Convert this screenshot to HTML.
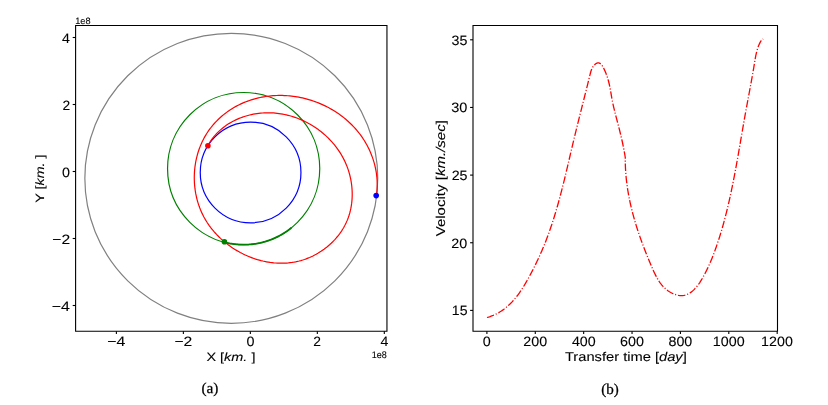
<!DOCTYPE html>
<html><head><meta charset="utf-8"><style>
html,body{margin:0;padding:0;background:#fff;}
body{width:828px;height:405px;overflow:hidden;position:relative;}
svg{position:absolute;left:0;top:0;will-change:transform;}
text{fill:#000;text-rendering:geometricPrecision;}
.s{stroke:#000;stroke-width:0.1px;}
.c{stroke:#000;stroke-width:0.25px;}
</style></head><body>
<svg width="828" height="405" viewBox="0 0 828 405">
<ellipse cx="231.3" cy="178.3" rx="146.45" ry="145" fill="none" stroke="#808080" stroke-width="1.2"/>
<circle cx="243.65" cy="168.6" r="76.1" fill="none" stroke="#008000" stroke-width="1.2"/>
<circle cx="250.6" cy="172.45" r="50.35" fill="none" stroke="#0000ff" stroke-width="1.2"/>
<path d="M224.47 242.24 L225.64 242.54 L226.81 242.81 L227.98 243.07 L229.16 243.31 L230.35 243.53 L231.54 243.73 L232.73 243.91 L233.92 244.08 L235.12 244.22 L236.31 244.35 L237.51 244.45 L238.71 244.54 L239.92 244.61 L241.12 244.66 L242.32 244.69 L243.53 244.7 L244.73 244.69 L245.94 244.67 L247.14 244.62 L248.34 244.56 L249.54 244.47 L250.74 244.37 L251.94 244.25 L253.14 244.11 L254.33 243.95 L255.52 243.77 L256.71 243.57 L257.9 243.35 L259.08 243.12 L260.26 242.87 L261.43 242.59 L262.6 242.3 L263.76 241.99 L264.92 241.67 L266.07 241.32 L267.22 240.96 L268.36 240.58 L269.5 240.18 L270.63 239.76 L271.75 239.32 L272.87 238.87 L273.98 238.4 L275.08 237.91 L276.17 237.4 L277.25 236.88 L278.33 236.34 L279.4 235.78 L280.46 235.21 L281.51 234.62 L282.55 234.01 L283.58 233.38 L284.6 232.74 L285.61 232.09 L286.61 231.42 L287.6 230.73 L288.57 230.03 L289.54 229.31 L290.49 228.57 L291.44 227.82" fill="none" stroke="#008000" stroke-width="1.8"/>
<path d="M207.74 145.73 L208.68 144.08 L209.67 142.47 L210.71 140.9 L211.79 139.37 L212.91 137.88 L214.08 136.44 L215.29 135.04 L216.53 133.68 L217.82 132.36 L219.14 131.09 L220.5 129.86 L221.9 128.67 L223.32 127.52 L224.78 126.42 L226.27 125.36 L227.79 124.34 L229.34 123.36 L230.92 122.43 L232.52 121.54 L234.15 120.69 L235.8 119.89 L237.47 119.12 L239.16 118.4 L240.87 117.73 L242.6 117.1 L244.35 116.51 L246.11 115.96 L247.88 115.46 L249.67 115 L251.47 114.58 L253.28 114.21 L255.1 113.88 L256.93 113.59 L258.76 113.35 L260.6 113.15 L262.45 112.99 L264.29 112.88 L266.14 112.81 L267.99 112.78 L269.84 112.8 L271.68 112.86 L273.52 112.97 L275.36 113.12 L277.19 113.31 L279.02 113.54 L280.84 113.81 L282.66 114.13 L284.47 114.48 L286.27 114.87 L288.06 115.31 L289.84 115.78 L291.61 116.29 L293.37 116.84 L295.12 117.43 L296.86 118.05 L298.58 118.72 L300.29 119.41 L301.98 120.15 L303.66 120.92 L305.33 121.72 L306.97 122.56 L308.6 123.43 L310.21 124.34 L311.81 125.28 L313.38 126.25 L314.93 127.25 L316.46 128.29 L317.97 129.36 L319.45 130.46 L320.91 131.58 L322.35 132.74 L323.77 133.93 L325.15 135.15 L326.52 136.4 L327.85 137.67 L329.16 138.97 L330.43 140.3 L331.68 141.66 L332.9 143.04 L334.09 144.45 L335.25 145.88 L336.37 147.34 L337.46 148.83 L338.52 150.34 L339.55 151.87 L340.53 153.42 L341.49 155 L342.4 156.6 L343.28 158.22 L344.12 159.87 L344.93 161.53 L345.69 163.22 L346.41 164.92 L347.1 166.64 L347.74 168.39 L348.34 170.15 L348.89 171.92 L349.41 173.71 L349.88 175.51 L350.31 177.33 L350.7 179.15 L351.04 180.98 L351.34 182.82 L351.6 184.67 L351.81 186.52 L351.98 188.38 L352.1 190.24 L352.18 192.1 L352.21 193.95 L352.2 195.81 L352.13 197.66 L352.03 199.51 L351.87 201.36 L351.67 203.19 L351.42 205.02 L351.12 206.84 L350.78 208.65 L350.39 210.44 L349.94 212.23 L349.45 213.99 L348.91 215.74 L348.32 217.48 L347.68 219.19 L346.99 220.89 L346.25 222.56 L345.46 224.21 L344.62 225.84 L343.73 227.44 L342.79 229.02 L341.82 230.57 L340.79 232.1 L339.73 233.6 L338.62 235.07 L337.48 236.51 L336.29 237.93 L335.07 239.31 L333.81 240.66 L332.51 241.98 L331.18 243.27 L329.82 244.53 L328.42 245.75 L327 246.94 L325.54 248.09 L324.06 249.2 L322.54 250.28 L321.01 251.32 L319.44 252.32 L317.86 253.28 L316.25 254.2 L314.62 255.08 L312.97 255.92 L311.3 256.71 L309.61 257.47 L307.91 258.17 L306.19 258.84 L304.46 259.46 L302.71 260.03 L300.95 260.55 L299.18 261.03 L297.41 261.45 L295.62 261.83 L293.82 262.17 L292.02 262.45 L290.21 262.69 L288.4 262.89 L286.58 263.03 L284.75 263.14 L282.93 263.2 L281.1 263.21 L279.27 263.18 L277.44 263.11 L275.61 263 L273.77 262.84 L271.95 262.64 L270.12 262.4 L268.3 262.12 L266.48 261.8 L264.66 261.44 L262.85 261.04 L261.05 260.6 L259.26 260.12 L257.47 259.61 L255.69 259.06 L253.93 258.47 L252.17 257.84 L250.42 257.18 L248.69 256.48 L246.97 255.75 L245.26 254.98 L243.57 254.17 L241.89 253.34 L240.23 252.47 L238.59 251.56 L236.96 250.63 L235.36 249.66 L233.77 248.66 L232.2 247.63 L230.65 246.57 L229.13 245.48 L227.63 244.36 L226.15 243.21 L224.7 242.03 L223.27 240.82 L221.87 239.59 L220.49 238.33 L219.14 237.04 L217.82 235.72 L216.53 234.38 L215.27 233.01 L214.04 231.62 L212.84 230.2 L211.68 228.76 L210.54 227.3 L209.44 225.81 L208.38 224.3 L207.35 222.77 L206.36 221.21 L205.41 219.64 L204.49 218.04 L203.61 216.42 L202.78 214.78 L201.98 213.13 L201.22 211.45 L200.5 209.76 L199.82 208.05 L199.18 206.33 L198.58 204.59 L198.02 202.84 L197.5 201.07 L197.01 199.3 L196.57 197.51 L196.17 195.72 L195.8 193.91 L195.48 192.1 L195.19 190.28 L194.94 188.45 L194.74 186.62 L194.57 184.78 L194.44 182.94 L194.35 181.1 L194.29 179.26 L194.28 177.41 L194.31 175.57 L194.37 173.72 L194.48 171.88 L194.62 170.05 L194.8 168.21 L195.03 166.38 L195.29 164.56 L195.58 162.74 L195.92 160.93 L196.3 159.13 L196.71 157.34 L197.17 155.56 L197.66 153.79 L198.19 152.03 L198.76 150.29 L199.37 148.56 L200.02 146.84 L200.7 145.14 L201.43 143.46 L202.19 141.79 L202.99 140.15 L203.83 138.52 L204.71 136.91 L205.62 135.33 L206.58 133.76 L207.57 132.22 L208.6 130.71 L209.67 129.22 L210.78 127.75 L211.92 126.31 L213.1 124.9 L214.31 123.51 L215.56 122.16 L216.84 120.83 L218.15 119.53 L219.49 118.25 L220.86 117.01 L222.26 115.8 L223.68 114.63 L225.13 113.48 L226.61 112.36 L228.12 111.28 L229.64 110.24 L231.19 109.22 L232.76 108.24 L234.35 107.3 L235.97 106.39 L237.6 105.52 L239.25 104.69 L240.91 103.89 L242.6 103.13 L244.29 102.41 L246.01 101.72 L247.74 101.07 L249.48 100.45 L251.23 99.87 L253 99.33 L254.78 98.82 L256.57 98.35 L258.36 97.91 L260.17 97.51 L261.99 97.15 L263.81 96.82 L265.64 96.53 L267.47 96.27 L269.31 96.05 L271.16 95.86 L273.01 95.71 L274.86 95.59 L276.71 95.51 L278.57 95.46 L280.42 95.45 L282.28 95.47 L284.13 95.53 L285.98 95.62 L287.83 95.74 L289.68 95.9 L291.53 96.1 L293.37 96.32 L295.2 96.58 L297.03 96.88 L298.86 97.2 L300.68 97.56 L302.49 97.95 L304.29 98.38 L306.09 98.83 L307.87 99.32 L309.65 99.84 L311.42 100.39 L313.18 100.97 L314.92 101.58 L316.66 102.23 L318.38 102.9 L320.09 103.6 L321.79 104.34 L323.47 105.1 L325.13 105.89 L326.79 106.72 L328.42 107.57 L330.04 108.45 L331.64 109.36 L333.23 110.3 L334.8 111.26 L336.34 112.26 L337.87 113.28 L339.38 114.33 L340.87 115.41 L342.34 116.51 L343.78 117.64 L345.2 118.8 L346.6 119.99 L347.98 121.2 L349.33 122.44 L350.66 123.7 L351.96 124.99 L353.24 126.3 L354.49 127.64 L355.71 129.01 L356.9 130.39 L358.07 131.81 L359.21 133.25 L360.31 134.71 L361.39 136.19 L362.44 137.7 L363.46 139.24 L364.44 140.79 L365.39 142.37 L366.31 143.97 L367.2 145.58 L368.05 147.22 L368.87 148.87 L369.65 150.55 L370.4 152.23 L371.11 153.94 L371.78 155.66 L372.42 157.39 L373.02 159.14 L373.58 160.9 L374.11 162.68 L374.59 164.46 L375.04 166.25 L375.44 168.06 L375.81 169.87 L376.13 171.69 L376.41 173.52 L376.65 175.35 L376.85 177.19 L377 179.04 L377.11 180.89 L377.17 182.74 L377.2 184.59 L377.17 186.45 L377.1 188.31 L376.98 190.17 L376.82 192.02 L376.6 193.88 L376.34 195.73" fill="none" stroke="#ff0000" stroke-width="1.2"/>
<circle cx="207.9" cy="145.7" r="2.8" fill="#ff0000"/>
<circle cx="224.4" cy="241.8" r="2.8" fill="#008000"/>
<circle cx="376.2" cy="195.6" r="2.8" fill="#0000ff"/>
<path d="M75.6 25.5 H386.95 V331.3 H75.6 Z" fill="none" stroke="#000" stroke-width="1.1" stroke-linejoin="miter"/>
<line x1="116.39" y1="331.3" x2="116.39" y2="334.0" stroke="#000" stroke-width="1.1"/>
<line x1="183.37" y1="331.3" x2="183.37" y2="334.0" stroke="#000" stroke-width="1.1"/>
<line x1="250.35" y1="331.3" x2="250.35" y2="334.0" stroke="#000" stroke-width="1.1"/>
<line x1="317.33" y1="331.3" x2="317.33" y2="334.0" stroke="#000" stroke-width="1.1"/>
<line x1="384.31" y1="331.3" x2="384.31" y2="334.0" stroke="#000" stroke-width="1.1"/>
<line x1="75.6" y1="305.5" x2="72.7" y2="305.5" stroke="#000" stroke-width="1.1"/>
<line x1="75.6" y1="238.5" x2="72.7" y2="238.5" stroke="#000" stroke-width="1.1"/>
<line x1="75.6" y1="171.5" x2="72.7" y2="171.5" stroke="#000" stroke-width="1.1"/>
<line x1="75.6" y1="104.5" x2="72.7" y2="104.5" stroke="#000" stroke-width="1.1"/>
<line x1="75.6" y1="37.5" x2="72.7" y2="37.5" stroke="#000" stroke-width="1.1"/>
<path d="M486.99 317.5 L488.58 317.03 L490.13 316.52 L491.65 315.97 L493.14 315.37 L494.59 314.73 L496.01 314.05 L497.4 313.34 L498.76 312.58 L500.09 311.79 L501.39 310.96 L502.66 310.1 L503.9 309.21 L505.11 308.28 L506.3 307.32 L507.46 306.33 L508.6 305.31 L509.71 304.27 L510.79 303.19 L511.86 302.1 L512.9 300.97 L513.92 299.83 L514.92 298.66 L515.9 297.47 L516.86 296.26 L517.8 295.03 L518.72 293.78 L519.63 292.51 L520.52 291.23 L521.39 289.94 L522.25 288.63 L523.09 287.31 L523.92 285.97 L524.73 284.63 L525.53 283.27 L526.33 281.91 L527.11 280.54 L527.88 279.17 L528.64 277.79 L529.39 276.41 L530.13 275.02 L530.87 273.63 L531.6 272.24 L532.32 270.85 L533.03 269.46 L533.74 268.07 L534.44 266.67 L535.14 265.28 L535.82 263.88 L536.5 262.48 L537.17 261.08 L537.84 259.67 L538.49 258.27 L539.14 256.86 L539.78 255.44 L540.42 254.03 L541.05 252.61 L541.67 251.19 L542.28 249.77 L542.88 248.35 L543.48 246.92 L544.07 245.48 L544.65 244.05 L545.23 242.61 L545.79 241.17 L546.35 239.72 L546.91 238.27 L547.45 236.82 L547.99 235.37 L548.52 233.91 L549.05 232.45 L549.57 230.99 L550.08 229.52 L550.59 228.05 L551.09 226.58 L551.59 225.11 L552.07 223.63 L552.56 222.16 L553.04 220.68 L553.51 219.19 L553.98 217.71 L554.44 216.22 L554.89 214.73 L555.34 213.24 L555.79 211.75 L556.23 210.25 L556.67 208.75 L557.1 207.25 L557.53 205.75 L557.96 204.25 L558.38 202.75 L558.79 201.24 L559.21 199.74 L559.61 198.23 L560.02 196.72 L560.42 195.21 L560.82 193.7 L561.21 192.19 L561.61 190.67 L562 189.16 L562.38 187.64 L562.76 186.13 L563.15 184.61 L563.52 183.09 L563.9 181.57 L564.27 180.05 L564.64 178.53 L565.01 177.01 L565.38 175.49 L565.75 173.97 L566.11 172.45 L566.47 170.93 L566.84 169.41 L567.2 167.89 L567.56 166.37 L567.91 164.85 L568.27 163.33 L568.63 161.81 L568.98 160.29 L569.34 158.77 L569.69 157.25 L570.05 155.73 L570.4 154.21 L570.76 152.69 L571.11 151.17 L571.47 149.66 L571.82 148.14 L572.18 146.63 L572.54 145.11 L572.89 143.6 L573.25 142.09 L573.61 140.58 L573.97 139.07 L574.33 137.56 L574.7 136.05 L575.06 134.55 L575.43 133.04 L575.79 131.54 L576.16 130.04 L576.53 128.54 L576.9 127.04 L577.27 125.53 L577.64 124.04 L578.02 122.54 L578.39 121.04 L578.77 119.54 L579.14 118.04 L579.52 116.54 L579.9 115.04 L580.28 113.54 L580.66 112.04 L581.04 110.54 L581.42 109.04 L581.8 107.54 L582.18 106.03 L582.56 104.53 L582.94 103.02 L583.32 101.52 L583.7 100.01 L584.09 98.5 L584.47 96.99 L584.85 95.48 L585.23 93.96 L585.61 92.44 L586 90.93 L586.38 89.4 L586.76 87.88 L587.14 86.36 L587.52 84.83 L587.9 83.3 L588.28 81.76 L588.66 80.23 L589.04 78.69 L589.42 77.14 L589.8 75.6 L590.18 74.05 L590.57 72.5 L591.02 70.97 L591.55 69.48 L592.21 68.02 L593.02 66.63 L594.02 65.32 L595.17 64.17 L596.39 63.3 L597.63 62.82 L598.81 62.83 L599.92 63.31 L600.97 64.17 L601.94 65.33 L602.85 66.73 L603.7 68.27 L604.48 69.89 L605.2 71.51 L605.86 73.11 L606.46 74.68 L607.01 76.23 L607.52 77.76 L607.98 79.28 L608.4 80.78 L608.79 82.27 L609.15 83.74 L609.47 85.21 L609.78 86.67 L610.06 88.12 L610.33 89.57 L610.59 91.02 L610.84 92.47 L611.09 93.92 L611.34 95.37 L611.59 96.83 L611.85 98.3 L612.13 99.77 L612.42 101.26 L612.73 102.76 L613.05 104.27 L613.38 105.79 L613.73 107.32 L614.1 108.85 L614.47 110.39 L614.85 111.93 L615.23 113.48 L615.63 115.03 L616.03 116.58 L616.43 118.13 L616.84 119.69 L617.24 121.24 L617.65 122.79 L618.05 124.33 L618.45 125.87 L618.85 127.41 L619.24 128.93 L619.63 130.46 L620.01 131.97 L620.38 133.48 L620.74 134.99 L621.1 136.49 L621.45 137.99 L621.8 139.49 L622.14 140.99 L622.46 142.49 L622.79 144 L623.1 145.51 L623.4 147.02 L623.7 148.53 L623.99 150.06 L624.27 151.59 L624.54 153.13 L624.81 154.67 L625.06 156.23 L625.3 157.8 L625.27 159.26 L625.27 160.73 L625.29 162.19 L625.32 163.65 L625.36 165.11 L625.41 166.56 L625.47 168.02 L625.55 169.47 L625.63 170.92 L625.73 172.37 L625.84 173.81 L625.95 175.26 L626.08 176.7 L626.22 178.14 L626.37 179.58 L626.53 181.01 L626.7 182.45 L626.88 183.88 L627.07 185.31 L627.27 186.74 L627.48 188.16 L627.69 189.59 L627.92 191.01 L628.16 192.43 L628.41 193.85 L628.66 195.27 L628.93 196.69 L629.2 198.1 L629.49 199.51 L629.78 200.93 L630.08 202.33 L630.39 203.74 L630.7 205.15 L631.03 206.55 L631.36 207.96 L631.7 209.36 L632.05 210.76 L632.41 212.16 L632.78 213.55 L633.15 214.95 L633.53 216.34 L633.92 217.74 L634.31 219.13 L634.71 220.52 L635.12 221.91 L635.54 223.3 L635.96 224.68 L636.39 226.07 L636.83 227.45 L637.27 228.83 L637.72 230.22 L638.17 231.6 L638.64 232.97 L639.1 234.35 L639.58 235.73 L640.06 237.1 L640.54 238.48 L641.03 239.85 L641.53 241.22 L642.03 242.6 L642.54 243.97 L643.05 245.34 L643.57 246.7 L644.09 248.07 L644.62 249.44 L645.15 250.8 L645.68 252.17 L646.23 253.53 L646.77 254.89 L647.32 256.26 L647.87 257.62 L648.43 258.98 L648.99 260.34 L649.56 261.7 L650.13 263.05 L650.7 264.41 L651.28 265.77 L651.86 267.12 L652.44 268.48 L653.03 269.83 L653.64 271.17 L654.25 272.5 L654.88 273.82 L655.53 275.13 L656.2 276.42 L656.89 277.69 L657.61 278.95 L658.35 280.17 L659.13 281.38 L659.93 282.55 L660.78 283.7 L661.66 284.81 L662.58 285.89 L663.54 286.94 L664.55 287.94 L665.6 288.9 L666.71 289.82 L667.87 290.69 L669.08 291.52 L670.35 292.29 L671.67 293 L673.02 293.65 L674.4 294.22 L675.8 294.71 L677.21 295.1 L678.61 295.39 L679.99 295.58 L681.36 295.64 L682.69 295.58 L683.98 295.4 L685.25 295.11 L686.48 294.71 L687.69 294.21 L688.86 293.61 L690 292.92 L691.12 292.15 L692.2 291.3 L693.26 290.37 L694.29 289.38 L695.29 288.32 L696.27 287.2 L697.22 286.03 L698.14 284.82 L699.04 283.57 L699.92 282.28 L700.77 280.96 L701.59 279.62 L702.4 278.26 L703.18 276.88 L703.94 275.5 L704.68 274.12 L705.4 272.74 L706.1 271.37 L706.78 270.01 L707.44 268.65 L708.08 267.29 L708.7 265.94 L709.31 264.6 L709.91 263.25 L710.49 261.91 L711.05 260.58 L711.61 259.24 L712.15 257.91 L712.68 256.57 L713.2 255.24 L713.71 253.9 L714.21 252.57 L714.71 251.23 L715.19 249.9 L715.67 248.55 L716.15 247.21 L716.62 245.86 L717.08 244.51 L717.54 243.16 L717.99 241.81 L718.44 240.45 L718.88 239.09 L719.32 237.73 L719.75 236.36 L720.17 234.99 L720.59 233.62 L721.01 232.25 L721.42 230.87 L721.83 229.5 L722.23 228.12 L722.62 226.73 L723.01 225.35 L723.4 223.96 L723.78 222.58 L724.16 221.18 L724.54 219.79 L724.91 218.4 L725.27 217 L725.63 215.6 L725.99 214.2 L726.34 212.8 L726.69 211.4 L727.04 209.99 L727.38 208.58 L727.72 207.18 L728.05 205.76 L728.38 204.35 L728.71 202.94 L729.03 201.52 L729.35 200.11 L729.67 198.69 L729.98 197.27 L730.3 195.85 L730.6 194.43 L730.91 193.01 L731.21 191.58 L731.51 190.16 L731.81 188.73 L732.1 187.31 L732.39 185.88 L732.68 184.45 L732.97 183.02 L733.25 181.59 L733.53 180.16 L733.81 178.73 L734.09 177.29 L734.36 175.86 L734.64 174.43 L734.91 172.99 L735.18 171.56 L735.45 170.12 L735.71 168.68 L735.98 167.25 L736.24 165.81 L736.5 164.37 L736.76 162.94 L737.02 161.5 L737.27 160.06 L737.53 158.62 L737.79 157.19 L738.04 155.75 L738.29 154.31 L738.54 152.87 L738.79 151.43 L739.04 149.99 L739.29 148.56 L739.54 147.12 L739.79 145.68 L740.04 144.25 L740.29 142.81 L740.53 141.37 L740.78 139.94 L741.03 138.5 L741.27 137.07 L741.52 135.63 L741.77 134.2 L742.01 132.77 L742.26 131.33 L742.51 129.9 L742.76 128.47 L743 127.04 L743.25 125.61 L743.5 124.18 L743.75 122.76 L744 121.33 L744.25 119.9 L744.5 118.48 L744.76 117.06 L745.01 115.64 L745.26 114.21 L745.52 112.79 L745.78 111.38 L746.04 109.96 L746.3 108.54 L746.56 107.13 L746.82 105.72 L747.08 104.3 L747.34 102.89 L747.61 101.48 L747.87 100.06 L748.13 98.65 L748.4 97.24 L748.66 95.83 L748.93 94.42 L749.19 93 L749.45 91.59 L749.72 90.17 L749.98 88.76 L750.24 87.34 L750.51 85.93 L750.77 84.51 L751.03 83.09 L751.29 81.67 L751.55 80.24 L751.8 78.82 L752.06 77.39 L752.31 75.96 L752.57 74.53 L752.82 73.1 L753.07 71.66 L753.32 70.22 L753.56 68.78 L753.81 67.33 L754.05 65.88 L754.29 64.43 L754.52 62.98 L754.76 61.52 L755 60.06 L755.25 58.61 L755.51 57.16 L755.78 55.71 L756.08 54.28 L756.4 52.85 L756.74 51.44 L757.12 50.04 L757.53 48.66 L757.98 47.3 L758.48 45.96 L759.02 44.65 L759.62 43.36 L760.28 42.11 L761.05 40.93 L761.99 39.87 L763.14 38.95" fill="none" stroke="#ff0000" stroke-width="1.3" stroke-dasharray="7.4 1.9 1.1 1.9"/>
<path d="M473.0 25.5 H777.5 V331.3 H473.0 Z" fill="none" stroke="#000" stroke-width="1.1" stroke-linejoin="miter"/>
<line x1="486.9" y1="331.3" x2="486.9" y2="334.0" stroke="#000" stroke-width="1.1"/>
<line x1="535.28" y1="331.3" x2="535.28" y2="334.0" stroke="#000" stroke-width="1.1"/>
<line x1="583.66" y1="331.3" x2="583.66" y2="334.0" stroke="#000" stroke-width="1.1"/>
<line x1="632.04" y1="331.3" x2="632.04" y2="334.0" stroke="#000" stroke-width="1.1"/>
<line x1="680.42" y1="331.3" x2="680.42" y2="334.0" stroke="#000" stroke-width="1.1"/>
<line x1="728.8" y1="331.3" x2="728.8" y2="334.0" stroke="#000" stroke-width="1.1"/>
<line x1="777.18" y1="331.3" x2="777.18" y2="334.0" stroke="#000" stroke-width="1.1"/>
<line x1="473.0" y1="310.4" x2="470.1" y2="310.4" stroke="#000" stroke-width="1.1"/>
<line x1="473.0" y1="242.75" x2="470.1" y2="242.75" stroke="#000" stroke-width="1.1"/>
<line x1="473.0" y1="175.1" x2="470.1" y2="175.1" stroke="#000" stroke-width="1.1"/>
<line x1="473.0" y1="107.45" x2="470.1" y2="107.45" stroke="#000" stroke-width="1.1"/>
<line x1="473.0" y1="39.8" x2="470.1" y2="39.8" stroke="#000" stroke-width="1.1"/>
<text class="s" x="107.15" y="346.30" font-size="13.60" font-family='"Liberation Sans", sans-serif' textLength="18.16" lengthAdjust="spacingAndGlyphs">−4</text>
<text class="s" x="174.44" y="346.30" font-size="13.60" font-family='"Liberation Sans", sans-serif' textLength="17.88" lengthAdjust="spacingAndGlyphs">−2</text>
<text class="s" x="246.42" y="346.30" font-size="13.60" font-family='"Liberation Sans", sans-serif' textLength="7.99" lengthAdjust="spacingAndGlyphs">0</text>
<text class="s" x="313.35" y="346.30" font-size="13.60" font-family='"Liberation Sans", sans-serif' textLength="7.70" lengthAdjust="spacingAndGlyphs">2</text>
<text class="s" x="380.43" y="346.30" font-size="13.60" font-family='"Liberation Sans", sans-serif' textLength="7.88" lengthAdjust="spacingAndGlyphs">4</text>
<text class="s" x="62.00" y="42.54" font-size="13.60" font-family='"Liberation Sans", sans-serif' textLength="7.89" lengthAdjust="spacingAndGlyphs">4</text>
<text class="s" x="62.46" y="109.54" font-size="13.60" font-family='"Liberation Sans", sans-serif' textLength="7.71" lengthAdjust="spacingAndGlyphs">2</text>
<text class="s" x="62.13" y="176.54" font-size="13.60" font-family='"Liberation Sans", sans-serif' textLength="7.97" lengthAdjust="spacingAndGlyphs">0</text>
<text class="s" x="52.33" y="243.54" font-size="13.60" font-family='"Liberation Sans", sans-serif' textLength="17.81" lengthAdjust="spacingAndGlyphs">−2</text>
<text class="s" x="51.71" y="310.54" font-size="13.60" font-family='"Liberation Sans", sans-serif' textLength="18.16" lengthAdjust="spacingAndGlyphs">−4</text>
<text class="s" x="75.23" y="23.74" font-size="9.21" font-family='"Liberation Sans", sans-serif' textLength="15.38" lengthAdjust="spacingAndGlyphs">1e8</text>
<text class="s" x="371.76" y="357.93" font-size="9.48" font-family='"Liberation Sans", sans-serif' textLength="15.03" lengthAdjust="spacingAndGlyphs">1e8</text>
<text class="s" x="206.46" y="360.58" font-size="11.88" font-family='"Liberation Sans", sans-serif' textLength="48.98" lengthAdjust="spacingAndGlyphs">X [<tspan font-style="italic">km.</tspan> ]</text>
<text class="s" transform="translate(44.23 202.70) rotate(-90)" font-size="12.08" font-family='"Liberation Sans", sans-serif' textLength="48.23" lengthAdjust="spacingAndGlyphs">Y [<tspan font-style="italic">km.</tspan> ]</text>
<text class="c" x="201.41" y="393.21" font-size="14.98" font-family='"Liberation Serif", serif' textLength="17.01" lengthAdjust="spacingAndGlyphs">(a)</text>
<text class="s" x="482.85" y="346.30" font-size="13.60" font-family='"Liberation Sans", sans-serif' textLength="7.97" lengthAdjust="spacingAndGlyphs">0</text>
<text class="s" x="523.30" y="346.30" font-size="13.60" font-family='"Liberation Sans", sans-serif' textLength="23.85" lengthAdjust="spacingAndGlyphs">200</text>
<text class="s" x="571.90" y="346.30" font-size="13.60" font-family='"Liberation Sans", sans-serif' textLength="23.79" lengthAdjust="spacingAndGlyphs">400</text>
<text class="s" x="620.06" y="346.30" font-size="13.60" font-family='"Liberation Sans", sans-serif' textLength="23.99" lengthAdjust="spacingAndGlyphs">600</text>
<text class="s" x="668.47" y="346.30" font-size="13.60" font-family='"Liberation Sans", sans-serif' textLength="23.85" lengthAdjust="spacingAndGlyphs">800</text>
<text class="s" x="712.80" y="346.30" font-size="13.60" font-family='"Liberation Sans", sans-serif' textLength="31.80" lengthAdjust="spacingAndGlyphs">1000</text>
<text class="s" x="761.07" y="346.30" font-size="13.60" font-family='"Liberation Sans", sans-serif' textLength="31.77" lengthAdjust="spacingAndGlyphs">1200</text>
<text class="s" x="451.83" y="315.22" font-size="13.60" font-family='"Liberation Sans", sans-serif' textLength="15.67" lengthAdjust="spacingAndGlyphs">15</text>
<text class="s" x="451.34" y="247.57" font-size="13.60" font-family='"Liberation Sans", sans-serif' textLength="15.98" lengthAdjust="spacingAndGlyphs">20</text>
<text class="s" x="451.67" y="179.92" font-size="13.60" font-family='"Liberation Sans", sans-serif' textLength="15.88" lengthAdjust="spacingAndGlyphs">25</text>
<text class="s" x="451.23" y="112.27" font-size="13.60" font-family='"Liberation Sans", sans-serif' textLength="16.15" lengthAdjust="spacingAndGlyphs">30</text>
<text class="s" x="451.58" y="44.62" font-size="13.60" font-family='"Liberation Sans", sans-serif' textLength="15.86" lengthAdjust="spacingAndGlyphs">35</text>
<text class="s" x="564.95" y="361.31" font-size="12.72" font-family='"Liberation Sans", sans-serif' textLength="121.86" lengthAdjust="spacingAndGlyphs">Transfer time [<tspan font-style="italic">day</tspan>]</text>
<text class="s" transform="translate(444.50 236.30) rotate(-90)" font-size="12.82" font-family='"Liberation Sans", sans-serif' textLength="116.24" lengthAdjust="spacingAndGlyphs">Velocity [<tspan font-style="italic">km./sec</tspan>]</text>
<text class="c" x="601.13" y="393.58" font-size="15.06" font-family='"Liberation Serif", serif' textLength="17.58" lengthAdjust="spacingAndGlyphs">(b)</text>
</svg>
</body></html>
